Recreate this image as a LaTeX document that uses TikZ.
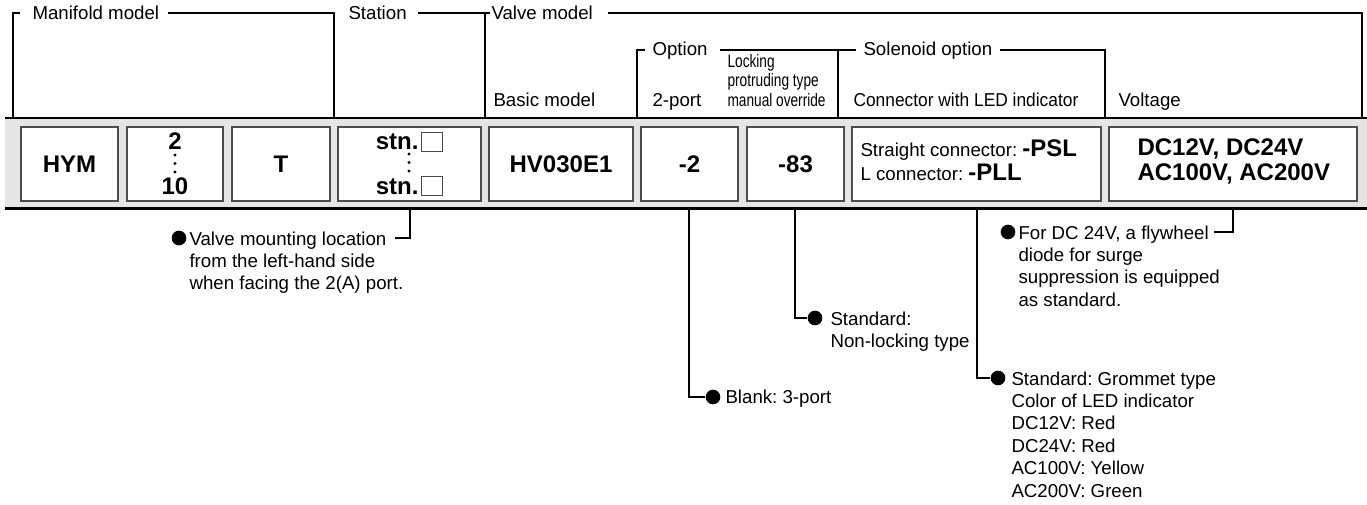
\documentclass[tikz,border=0pt]{standalone}
\usepackage{fontspec}
\setmainfont{Liberation Sans}
\newfontfamily\narrowfont[FakeStretch=0.76]{Liberation Sans}
\frenchspacing

\begin{document}
\begin{tikzpicture}
  [x=0.75pt,y=-0.75pt,line width=0.8pt,
   every node/.style={inner sep=0pt,font=\fontsize{14}{16.8}\selectfont},
   lbl/.style={anchor=base west},
   note/.style={anchor=north west,align=left},
   small/.style={anchor=south west,align=left,font=\narrowfont\fontsize{13.5}{14.6}\selectfont},
   box/.style={draw=black!70,fill=white,minimum height=55.5pt,font=\fontsize{18}{20}\selectfont\bfseries},
   code/.style={font=\fontsize{18}{20}\selectfont\bfseries},
   sq/.style={draw=black!70,line width=0.6pt,minimum width=15.75pt,minimum height=14.25pt},
   dot/.style={circle,fill,minimum size=2.4pt},
   bul/.style={circle,fill,minimum size=11pt}]
  \useasboundingbox (0,0) rectangle (1367,505);

  \draw (13,118) |- (20,13);
  \draw (168,13) -| (334,118);
  \draw (418,13) -- (490,13);
  \draw (485,13) -- (485,118);
  \draw (608,13) -| (1362,118);
  \draw (637,118) |- (645,50);
  \draw (720,50) -- (856,50);
  \draw (838,50) -- (838,118);
  \draw (1000,50) -| (1105,118);

  \node[lbl] (mm) at (32,20) {Manifold model};
  \node[lbl] (st) at (348,20) {Station};
  \node[lbl] (vm) at (491,20) {Valve model};
  \node[lbl] (op) at (652,56) {Option};
  \node[lbl] (so) at (863,56) {Solenoid option};
  \node[lbl] (bm) at (493,107) {Basic model};
  \node[lbl] (tp) at (652,107) {2-port};
  \node[small] (lk) at (727,107) {Locking\\protruding type\\manual override};
  \node[lbl] (cw) at (853,107) {\scalebox{0.93}[1]{Connector with LED indicator}};
  \node[lbl] (vg) at (1118,107) {Voltage};

  \fill[black!10] (5,118) rectangle (1367,208);
  \draw[line width=2pt] (5,118) -- (1367,118);
  \draw[line width=2.2pt] (5,208.5) -- (1367,208.5);

  \node[box,minimum width=72.75pt] (hym) at (69.5,164) {HYM};
  \node[box,minimum width=72pt] (num) at (175,164) {};
  \node[box,minimum width=73.5pt] (tee) at (281,164) {T};
  \node[box,minimum width=107.25pt] (stn) at (409.5,164) {};
  \node[box,minimum width=108pt] (hv) at (561,164) {HV030E1};
  \node[box,minimum width=72.75pt] (opt) at (689.5,164) {-2};
  \node[box,minimum width=72.75pt] (mo) at (795.5,164) {-83};
  \node[box,minimum width=186.75pt] (sol) at (976.5,164) {};
  \node[box,minimum width=186pt] (vol) at (1233,164) {};

  \node[code] (n2) at (175,141) {2};
  \node[dot] (d1) at (175,155) {};
  \node[dot] (d2) at (175,163.5) {};
  \node[dot] (d3) at (175,172) {};
  \node[code] (n10) at (175,186) {10};

  \node[code,anchor=base east] (s1) at (419,150) {stn.};
  \node[sq] (q1) at (431.5,141.5) {};
  \node[dot] (d4) at (409,154) {};
  \node[dot] (d5) at (409,162.5) {};
  \node[dot] (d6) at (409,171) {};
  \node[code,anchor=base east] (s2) at (419,195) {stn.};
  \node[sq] (q2) at (431.5,186) {};

  \node[lbl] (ps) at (860,157) {Straight connector: {\fontsize{18}{20}\selectfont\bfseries -PSL}};
  \node[lbl] (pl) at (860,181) {L connector: {\fontsize{18}{20}\selectfont\bfseries -PLL}};
  \node[code,anchor=base west] (v1) at (1137,156) {DC12V, DC24V};
  \node[code,anchor=base west] (v2) at (1137,181) {AC100V, AC200V};

  \node[bul] (b1) at (179,238) {};
  \node[note] (t1) at (189,231) {Valve mounting location\\from the left-hand side\\when facing the 2(A) port.};
  \coordinate (c1) at (410,210);
  \coordinate (e1) at (395,238);
  \draw (c1) |- (e1);

  \node[bul] (b2) at (713,397) {};
  \node[lbl] (t2) at (725,404) {Blank: 3-port};
  \coordinate (c2) at (689,210);
  \draw (c2) |- (b2);

  \node[bul] (b3) at (815,318) {};
  \node[note] (t3) at (830,311) {Standard:\\Non-locking type};
  \coordinate (c3) at (795,210);
  \draw (c3) |- (b3);

  \node[bul] (b4) at (998,378) {};
  \node[note] (t4) at (1011,371) {Standard: Grommet type\\Color of LED indicator\\DC12V: Red\\DC24V: Red\\AC100V: Yellow\\AC200V: Green};
  \coordinate (c4) at (977,210);
  \draw (c4) |- (b4);

  \node[bul] (b5) at (1008,232) {};
  \node[note] (t5) at (1018,225) {For DC 24V, a flywheel\\diode for surge\\suppression is equipped\\as standard.};
  \coordinate (c5) at (1233,210);
  \coordinate (e5) at (1214,232);
  \draw (c5) |- (e5);
\end{tikzpicture}
\end{document}
